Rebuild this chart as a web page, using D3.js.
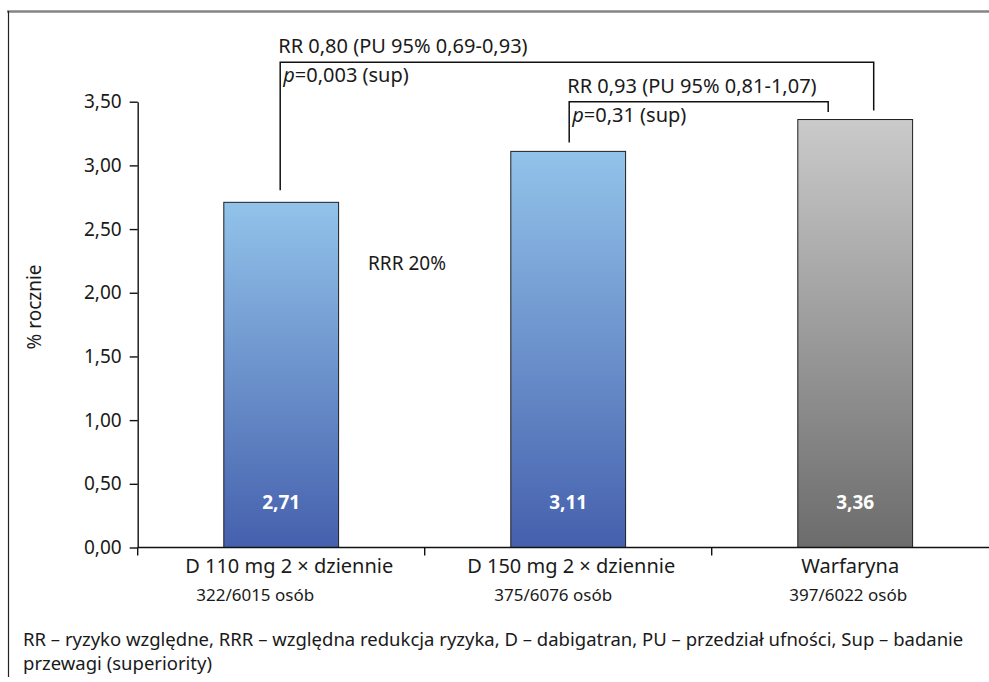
<!DOCTYPE html>
<html>
<head>
<meta charset="utf-8">
<script src="https://cdn.jsdelivr.net/npm/d3@7"></script>
<style>
	body { margin: 0; background: #fff; }
	svg { display: block; font-family: "Noto Sans", sans-serif; }
</style>
</head>
<body>
<div id="chart"></div>
<script>
// data
const categories = ["D 110 mg 2 \u00d7 dziennie", "D 150 mg 2 \u00d7 dziennie", "Warfaryna"];
const patientCounts = ["322/6015 osób", "375/6076 osób", "397/6022 osób"];
const rates = [2.71, 3.11, 3.36];
const valueLabels = ["2,71", "3,11", "3,36"];
const yTicks = [0, 0.5, 1, 1.5, 2, 2.5, 3, 3.5];
const yTickLabels = ["0,00", "0,50", "1,00", "1,50", "2,00", "2,50", "3,00", "3,50"];
const comparisonPairs = [[0, 2], [1, 2]];
const comparisonRR = ["RR 0,80 (PU 95% 0,69-0,93)", "RR 0,93 (PU 95% 0,81-1,07)"];
const comparisonP = ["=0,003 (sup)", "=0,31 (sup)"];
const yTitle = "% rocznie";
const rrrNote = "RRR 20%";
const footnote = [
	"RR \u2013 ryzyko względne, RRR \u2013 względna redukcja ryzyka, D \u2013 dabigatran, PU \u2013 przedział ufności, Sup \u2013 badanie",
	"przewagi (superiority)"
];

const W = 989, H = 682;
const plotLeft = 137.7, plotBottom = 547.5, plotTop = 101.7;

const svg = d3.select("#chart").append("svg")
	.attr("width", W)
	.attr("height", H);

// gradients for the bars
const defs = svg.append("defs");
const grads = [
	{id: "gBlue", c0: "#92c3ea", c1: "#4560ad"},
	{id: "gGray", c0: "#cacaca", c1: "#6c6c6c"}
];
grads.forEach(g => {
	const lg = defs.append("linearGradient")
		.attr("id", g.id)
		.attr("x1", 0).attr("y1", 0).attr("x2", 0).attr("y2", 1);
	lg.append("stop").attr("offset", "0%").attr("stop-color", g.c0);
	lg.append("stop").attr("offset", "100%").attr("stop-color", g.c1);
});

// frame
svg.append("line")
	.attr("x1", 7).attr("x2", W).attr("y1", 11.5).attr("y2", 11.5)
	.attr("stroke", "#858585").attr("stroke-width", 2.5);
svg.append("line")
	.attr("x1", 8.5).attr("x2", 8.5).attr("y1", 11).attr("y2", 677)
	.attr("stroke", "#222").attr("stroke-width", 1.2);

const x = d3.scaleBand()
	.domain(categories)
	.range([plotLeft, plotLeft + 3 * 287])
	.padding(0);
const bw = x.bandwidth();
const cx = i => x(categories[i]) + bw / 2;

const y = d3.scaleLinear()
	.domain([0, 3.5])
	.range([plotBottom, plotTop]);

// bars
svg.selectAll(".bar")
	.data(rates)
	.enter()
	.append("rect")
	.attr("class", "bar")
	.attr("x", (d, i) => x(categories[i]) + bw * 0.3)
	.attr("width", bw * 0.4)
	.attr("y", d => y(d))
	.attr("height", d => y(0) - y(d))
	.attr("fill", (d, i) => i < 2 ? "url(#gBlue)" : "url(#gGray)")
	.attr("stroke", "#1e1e1e")
	.attr("stroke-width", 1);

// value labels inside bars
svg.selectAll(".val")
	.data(valueLabels)
	.enter()
	.append("text")
	.attr("x", (d, i) => cx(i))
	.attr("y", 508.5)
	.attr("text-anchor", "middle")
	.attr("fill", "#fff")
	.attr("font-weight", "bold")
	.attr("font-size", 19)
	.text(d => d);

// y axis
const yAxis = svg.append("g")
	.attr("transform", "translate(" + plotLeft + ",0)")
	.call(d3.axisLeft(y)
		.tickValues(yTicks)
		.tickFormat((d, i) => yTickLabels[i])
		.tickSize(8)
		.tickSizeOuter(0)
		.tickPadding(8));
yAxis.selectAll("text")
	.attr("font-family", "Noto Sans, sans-serif")
	.attr("font-size", 19)
	.attr("fill", "#1a1a1a");
yAxis.selectAll("line, path").attr("stroke", "#111").attr("stroke-width", 1.4);

// x axis: line and band boundary ticks
svg.append("line")
	.attr("x1", plotLeft).attr("x2", W).attr("y1", plotBottom).attr("y2", plotBottom)
	.attr("stroke", "#111").attr("stroke-width", 1.4);
svg.selectAll(".xtick")
	.data(categories)
	.enter()
	.append("line")
	.attr("x1", d => x(d)).attr("x2", d => x(d))
	.attr("y1", plotBottom).attr("y2", plotBottom + 8)
	.attr("stroke", "#111").attr("stroke-width", 1.4);

// labels are not quite centred under the bars in the source
const labelShift = [8, 3, -5];
const countShift = [-26, -15, -7];
svg.selectAll(".xlab")
	.data(categories)
	.enter()
	.append("text")
	.attr("x", (d, i) => cx(i) + labelShift[i])
	.attr("y", 573)
	.attr("text-anchor", "middle")
	.attr("font-size", 20)
	.attr("fill", "#1a1a1a")
	.text(d => d);
svg.selectAll(".xcount")
	.data(patientCounts)
	.enter()
	.append("text")
	.attr("x", (d, i) => cx(i) + countShift[i])
	.attr("y", 601)
	.attr("text-anchor", "middle")
	.attr("font-size", 17)
	.attr("fill", "#1a1a1a")
	.text(d => d);

// y title
svg.append("text")
	.attr("transform", "translate(41,307) rotate(-90)")
	.attr("text-anchor", "middle")
	.attr("font-size", 19)
	.attr("fill", "#1a1a1a")
	.text(yTitle);

// comparison brackets
const bracketLayout = [
	{level: 3.81, dxA: -1, dxB: 18.5, gapA: 12, gapB: 9},
	{level: 3.5, dxA: 1, dxB: -27, gapA: 9, gapB: 7.5}
];
comparisonPairs.forEach((pair, k) => {
	const L = bracketLayout[k];
	const xa = cx(pair[0]) + L.dxA, xb = cx(pair[1]) + L.dxB;
	const yl = y(L.level);
	svg.append("path")
		.attr("d", d3.line()([
			[xa, y(rates[pair[0]]) - L.gapA],
			[xa, yl],
			[xb, yl],
			[xb, y(rates[pair[1]]) - L.gapB]
		]))
		.attr("fill", "none")
		.attr("stroke", "#111")
		.attr("stroke-width", 1.5);
	svg.append("text")
		.attr("x", xa - 2)
		.attr("y", yl - 9)
		.attr("font-size", 20)
		.attr("fill", "#1a1a1a")
		.text(comparisonRR[k]);
	const pt = svg.append("text")
		.attr("x", xa + 3)
		.attr("y", yl + 20)
		.attr("font-size", 20)
		.attr("fill", "#1a1a1a");
	pt.append("tspan").attr("font-style", "italic").text("p");
	pt.append("tspan").text(comparisonP[k]);
});

svg.append("text")
	.attr("x", 368)
	.attr("y", 269.5)
	.attr("font-size", 19)
	.attr("fill", "#1a1a1a")
	.text(rrrNote);

// footnote
svg.selectAll(".foot")
	.data(footnote)
	.enter()
	.append("text")
	.attr("x", 23)
	.attr("y", (d, i) => 646 + i * 24)
	.attr("font-size", 18.5)
	.attr("fill", "#1a1a1a")
	.text(d => d);
</script>
</body>
</html>
